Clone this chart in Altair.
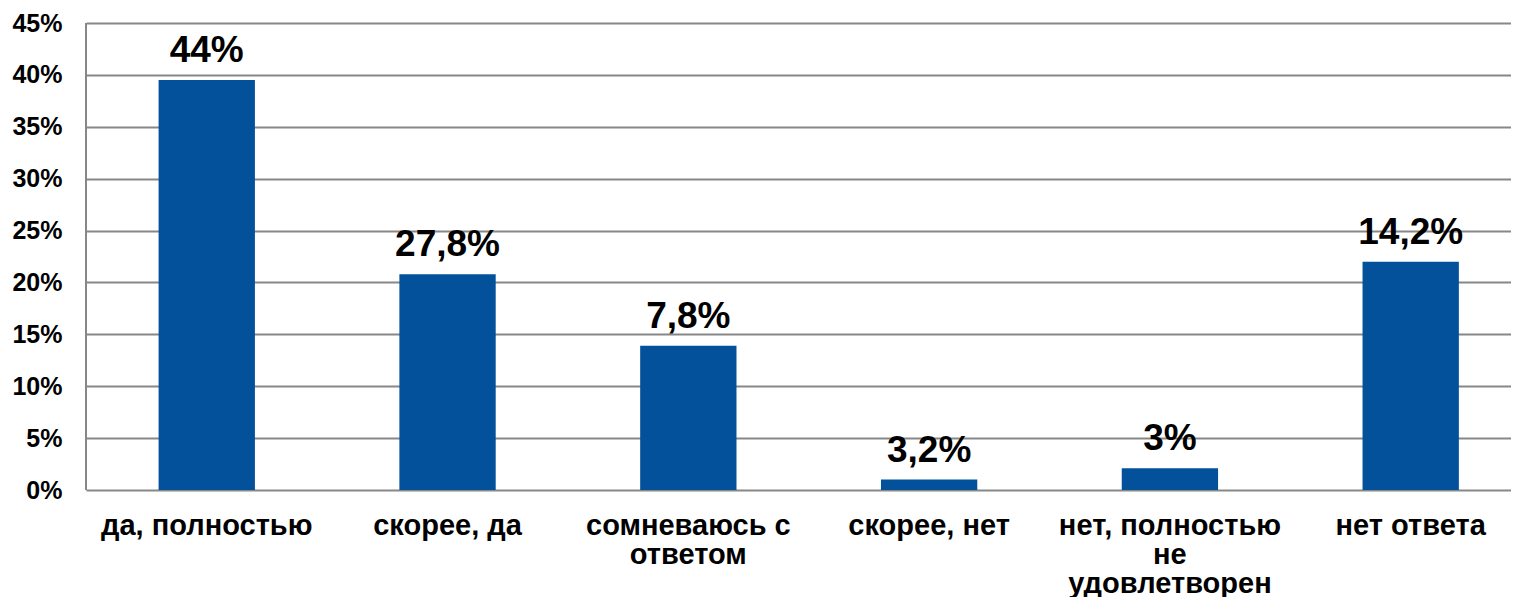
import altair as alt
import pandas as pd

categories = ["да, полностью", "скорее, да", "сомневаюсь с|ответом", "скорее, нет",
              "нет, полностью|не|удовлетворен", "нет ответа"]
values = [39.5, 20.8, 13.9, 1.0, 2.1, 22.0]
labels = ["44%", "27,8%", "7,8%", "3,2%", "3%", "14,2%"]
y_ticks = [0, 5, 10, 15, 20, 25, 30, 35, 40, 45]

df = pd.DataFrame({"cat": categories, "val": values, "lab": labels})

FONT = "Liberation Sans"
GRID = "#878787"
BAR = "#03519B"

x = alt.X("cat:N", sort=categories,
          scale=alt.Scale(paddingInner=0.6, paddingOuter=0.259, align=0.582),
          axis=alt.Axis(title=None, labelAngle=0, ticks=False, domain=False,
                        labelFont=FONT, labelFontSize=29, labelFontWeight="bold",
                        labelColor="black", labelPadding=21, labelLineHeight=29,
                        labelExpr="split(datum.label, '|')", labelLimit=400,
                        labelBaseline="top"))
y = alt.Y("val:Q", scale=alt.Scale(domain=[0, 45], nice=False),
          axis=alt.Axis(title=None, values=y_ticks, labelExpr="datum.value + '%'",
                        ticks=False, domain=False, grid=True, gridColor=GRID,
                        gridWidth=2, gridOpacity=1,
                        labelFont=FONT, labelFontSize=25, labelFontWeight="bold",
                        labelColor="black", labelPadding=24))

bars = alt.Chart(df).mark_bar(color=BAR).encode(x=x, y=y)
text = alt.Chart(df).mark_text(font=FONT, fontSize=37, fontWeight="bold", color="black",
                               baseline="alphabetic", dy=-18).encode(
    x=alt.X("cat:N", sort=categories), y=alt.Y("val:Q"), text="lab:N")
left_axis = alt.Chart(df).mark_rule(color=GRID, strokeWidth=2).encode(
    x=alt.value(0), y=alt.value(0), y2=alt.value(467))

chart = alt.layer(bars, text, left_axis).properties(
    width=1425, height=467,
    autosize=alt.AutoSizeParams(type="none"),
    padding={"left": 78, "top": 15, "right": 0, "bottom": 107},
).configure_view(stroke=None).configure(background="white")

chart.save("out.html", embed_options={"renderer": "svg", "actions": False})
